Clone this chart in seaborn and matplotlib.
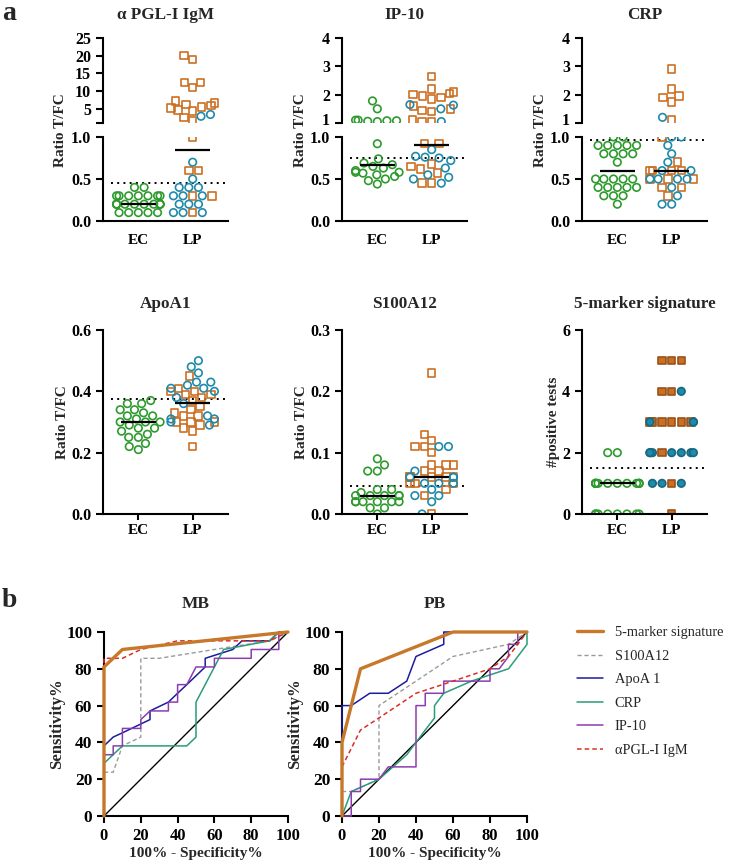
import warnings
import numpy as np
import pandas as pd
import matplotlib.pyplot as plt
import matplotlib.colors as mcolors
import matplotlib.transforms as mtransforms
from matplotlib.markers import MarkerStyle
import seaborn as sns

warnings.filterwarnings('ignore')

# ---- colours
GREEN = '#2E9A2E'
ORANGE = '#CC6F22'
TEAL = '#1F8AAA'

# ---- panel a data (ratio T/FC), EC = endemic controls, MB / PB = leprosy patients
pgl_ec = [0.4, 0.4, 0.3, 0.3, 0.3, 0.3, 0.3, 0.3, 0.3, 0.2, 0.2, 0.2, 0.2, 0.2, 0.2, 0.2, 0.2,
          0.2, 0.2, 0.1, 0.1, 0.1, 0.1, 0.1]
pgl_mb = [20, 19, 12.5, 12.4, 11, 7.2, 6.6, 6.2, 6.0, 5.5, 5.2, 4.7, 4.4, 2.6, 1.6,
          1.0, 0.6, 0.6, 0.3, 0.3, 0.1]
pgl_pb = [3.4, 2.9, 0.7, 0.5, 0.4, 0.4, 0.4, 0.3, 0.3, 0.3, 0.2, 0.2, 0.2, 0.1, 0.1, 0.1]
pgl_med = [0.2, 0.85]
pgl_cut = 0.45

ip10_ec = [1.78, 1.5, 1.1, 1.1, 1.08, 1.08, 1.06, 1.05, 0.92, 0.74, 0.69, 0.67, 0.65, 0.63,
           0.6, 0.58, 0.58, 0.57, 0.55, 0.53, 0.5, 0.48, 0.44]
ip10_mb = [2.65, 2.2, 2.1, 2.05, 2.0, 1.95, 1.9, 1.85, 1.6, 1.5, 1.45, 1.4, 1.1, 1.05, 1.05,
           0.92, 0.92, 0.68, 0.65, 0.62, 0.57, 0.45, 0.45]
ip10_pb = [1.65, 1.63, 1.5, 1.05, 0.85, 0.77, 0.76, 0.75, 0.72, 0.63, 0.55, 0.52, 0.5, 0.45]
ip10_med = [0.67, 0.91]
ip10_cut = 0.75

crp_ec = [1.0, 1.0, 0.9, 0.9, 0.9, 0.9, 0.9, 0.8, 0.8, 0.8, 0.8, 0.7, 0.5, 0.5, 0.5, 0.5, 0.5,
          0.4, 0.4, 0.4, 0.4, 0.4, 0.3, 0.3, 0.3, 0.2]
crp_mb = [2.9, 2.2, 1.95, 1.9, 1.75, 1.1, 1.0, 0.7, 0.6, 0.6, 0.6, 0.6, 0.5, 0.5, 0.5, 0.4,
          0.4, 0.3]
crp_pb = [1.2, 1.0, 1.0, 0.9, 0.8, 0.7, 0.6, 0.6, 0.5, 0.5, 0.5, 0.5, 0.4, 0.3, 0.2, 0.2]
crp_med = [0.6, 0.6]
crp_cut = 0.96

apo_ec = [0.37, 0.36, 0.36, 0.34, 0.34, 0.33, 0.32, 0.32, 0.31, 0.30, 0.30, 0.30, 0.29, 0.28,
          0.28, 0.27, 0.26, 0.25, 0.25, 0.23, 0.22, 0.21]
apo_mb = [0.45, 0.41, 0.40, 0.40, 0.39, 0.39, 0.38, 0.37, 0.35, 0.34, 0.33, 0.32, 0.32, 0.30,
          0.30, 0.30, 0.29, 0.28, 0.27, 0.22]
apo_pb = [0.50, 0.48, 0.46, 0.43, 0.43, 0.42, 0.41, 0.41, 0.40, 0.38, 0.36, 0.32, 0.31, 0.31,
          0.30, 0.29]
apo_med = [0.30, 0.363]
apo_cut = 0.375

s100_ec = [0.09, 0.08, 0.07, 0.07, 0.04, 0.04, 0.035, 0.03, 0.03, 0.03, 0.03, 0.03, 0.02, 0.02,
           0.02, 0.02, 0.02, 0.02, 0.01, 0.01, 0.0]
s100_mb = [0.23, 0.13, 0.12, 0.11, 0.11, 0.10, 0.08, 0.08, 0.08, 0.07, 0.07, 0.06, 0.06, 0.06,
           0.06, 0.06, 0.05, 0.05, 0.05, 0.04, 0.03, 0.0]
s100_pb = [0.11, 0.11, 0.07, 0.06, 0.06, 0.06, 0.05, 0.05, 0.05, 0.04, 0.03, 0.03, 0.02, 0.0]
s100_med = [0.03, 0.06]
s100_cut = 0.045

sig_ec = [2, 2, 1, 1, 1, 1, 1, 1, 1, 1, 1, 1, 1, 1, 0, 0, 0, 0, 0, 0, 0, 0]
sig_mb = [5, 5, 5, 4, 4, 3, 3, 3, 3, 3, 3, 2, 1, 0]
sig_pb = [4, 3, 3, 3, 2, 2, 2, 2, 2, 2, 2, 1, 1, 1]
sig_med = [1, None]
sig_cut = 1.5

# ---- panel b ROC curves (100% - specificity, sensitivity)
mb_sig_x = [0, 0, 10, 100]
mb_sig_y = [0, 81, 90.5, 100]
mb_s100_x = [0, 5, 10, 20, 20, 30, 60, 90, 100]
mb_s100_y = [23.8, 23.8, 38.1, 42.9, 85.7, 85.7, 90.5, 95.2, 100]
mb_apo_x = [0, 5, 10, 20, 25, 25, 35, 40, 45, 50, 55, 55, 70, 75, 90, 95, 100]
mb_apo_y = [38.1, 42.9, 45.2, 50, 52.4, 57.1, 61.9, 66.7, 71.4, 76.2, 81, 85.7, 90.5, 95.2,
            95.2, 100, 100]
mb_crp_x = [0, 10, 45, 50, 50, 65, 90, 95, 100]
mb_crp_y = [28.6, 38.1, 38.1, 42.9, 61.9, 90.5, 95.2, 100, 100]
mb_ip_x = [0, 5, 5, 10, 10, 20, 20, 25, 35, 35, 40, 40, 45, 50, 60, 60, 80, 80, 95, 95, 100]
mb_ip_y = [33.3, 33.3, 38.1, 38.1, 47.6, 47.6, 52.4, 57.1, 57.1, 61.9, 61.9, 71.4, 71.4, 81,
           81, 85.7, 85.7, 90.5, 90.5, 100, 100]
mb_pgl_x = [0, 0, 10, 20, 40, 90, 100]
mb_pgl_y = [0, 85.7, 85.7, 90.5, 95.2, 95.2, 100]

pb_sig_x = [0, 0, 10, 60, 100]
pb_sig_y = [0, 40, 80, 100, 100]
pb_s100_x = [0, 5, 20, 20, 40, 60, 90, 100]
pb_s100_y = [13.3, 13.3, 20, 60, 73.3, 86.7, 93.3, 100]
pb_apo_x = [0, 0, 5, 15, 25, 35, 40, 55, 55, 100]
pb_apo_y = [40, 60, 60, 66.7, 66.7, 73.3, 86.7, 93.3, 100, 100]
pb_crp_x = [0, 5, 20, 35, 45, 50, 50, 55, 70, 80, 90, 100, 100]
pb_crp_y = [0, 13.3, 20, 33.3, 46.7, 53.3, 60, 66.7, 73.3, 76.7, 80, 93.3, 100]
pb_ip_x = [0, 5, 5, 10, 10, 20, 25, 40, 40, 45, 45, 55, 55, 80, 80, 85, 90, 90, 95, 95, 100]
pb_ip_y = [0, 0, 13.3, 13.3, 20, 20, 26.7, 26.7, 60, 60, 66.7, 66.7, 73.3, 73.3, 80, 80,
           86.7, 93.3, 93.3, 100, 100]
pb_pgl_x = [0, 10, 20, 40, 60, 80, 90, 100]
pb_pgl_y = [26.7, 46.7, 53.3, 66.7, 73.3, 80, 86.7, 100]

roc_names = ['5-marker signature', 'S100A12', 'ApoA 1', 'CRP', 'IP-10', 'αPGL-I IgM']
roc_colors = ['#C8782A', '#9A9A9A', '#1C1C9C', '#2A9D78', '#8B3DAF', '#D93025']

sns.set_style('ticks')
plt.rcParams['font.family'] = ['Liberation Serif', 'DejaVu Serif']
plt.rcParams['font.weight'] = 'bold'
plt.rcParams['axes.labelweight'] = 'bold'
plt.rcParams['axes.titleweight'] = 'bold'
plt.rcParams['axes.linewidth'] = 1.5
plt.rcParams['xtick.major.width'] = 1.5
plt.rcParams['ytick.major.width'] = 1.5
plt.rcParams['xtick.major.size'] = 5
plt.rcParams['ytick.major.size'] = 5
plt.rcParams['xtick.labelsize'] = 11
plt.rcParams['ytick.labelsize'] = 11.5
plt.rcParams['xtick.color'] = 'black'
plt.rcParams['ytick.color'] = 'black'
plt.rcParams['axes.edgecolor'] = 'black'

fig = plt.figure(figsize=(7.3, 8.64), dpi=100)


def add_ax(left, top, right, bottom):
    return fig.add_axes([left / 730, 1 - bottom / 864, (right - left) / 730, (bottom - top) / 864])


def marker_path(m):
    ms = MarkerStyle(m)
    return ms.get_path().transformed(ms.get_transform())


SQUARE = marker_path('s')
CIRCLE = marker_path('o')
PAL = {'EC': GREEN, 'MB': ORANGE, 'PB': TEAL}


def make_df(ec, mb, pb):
    return pd.DataFrame({
        'group': ['EC'] * len(ec) + ['LP'] * (len(mb) + len(pb)),
        'kind': ['EC'] * len(ec) + ['MB'] * len(mb) + ['PB'] * len(pb),
        'value': list(ec) + list(mb) + list(pb),
    })


def swarm(ax, df, filled=False):
    n0 = len(ax.collections)
    sns.swarmplot(data=df, x='group', y='value', hue='kind', palette=PAL,
                  order=['EC', 'LP'], hue_order=['EC', 'MB', 'PB'],
                  size=5.4, legend=False, ax=ax)
    orange = np.array(mcolors.to_rgb(ORANGE))
    green = np.array(mcolors.to_rgb(GREEN))
    for coll in ax.collections[n0:]:
        fc = np.array(coll.get_facecolors())
        if len(fc) == 0:
            continue
        is_sq = np.all(np.isclose(fc[:, :3], orange, atol=0.02), axis=1)
        is_ec = np.all(np.isclose(fc[:, :3], green, atol=0.02), axis=1)
        coll.set_paths([SQUARE if s else CIRCLE for s in is_sq])
        if filled and not is_ec.any():
            edges = fc.copy()
            edges[:, :3] = edges[:, :3] * 0.75
            coll.set_edgecolors(edges)
        else:
            coll.set_edgecolors(fc)
            coll.set_facecolors('none')
        coll.set_linewidths(1.2)
        coll.set_zorder(2)
    ax.set_xlabel('')
    ax.set_ylabel('')


def draw_medians(ax, med):
    for pos, m in enumerate(med):
        if m is not None:
            ax.hlines(m, pos - 0.32, pos + 0.32, color='black', lw=1.6, zorder=4)


def broken_panel(left, title, ec, mb, pb, top_lim, top_ticks, top_labels, cut, med):
    right = left + 125
    ax_top = add_ax(left, 38, right, 123)
    ax_bot = add_ax(left, 137, right, 221)
    df = make_df(ec, mb, pb)
    for ax in (ax_top, ax_bot):
        ax.set_xlim(-0.65, 1.65)
    ax_top.set_ylim(*top_lim)
    ax_bot.set_ylim(0, 1)
    swarm(ax_top, df[df.value > 1])
    swarm(ax_bot, df[df.value <= 1])
    hi = [m if (m is not None and m > 1) else None for m in med]
    lo = [m if (m is not None and m <= 1) else None for m in med]
    draw_medians(ax_top, hi)
    draw_medians(ax_bot, lo)
    ax_bot.axhline(cut, xmin=0.06, xmax=1, color='black', ls=(0, (1, 2.2)), lw=1.4, zorder=1)
    for ax in (ax_top, ax_bot):
        ax.set_xlim(-0.65, 1.65)
    ax_top.set_ylim(*top_lim)
    ax_bot.set_ylim(0, 1)
    sns.despine(ax=ax_top, bottom=True)
    sns.despine(ax=ax_bot)
    ax_top.tick_params(axis='x', bottom=False, labelbottom=False)
    ax_top.set_yticks(top_ticks)
    ax_top.set_yticklabels(top_labels)
    # nudge the lowest label of the upper segment a little up, away from "1.0"
    low_lab = ax_top.get_yticklabels()[0]
    low_lab.set_transform(low_lab.get_transform() +
                          mtransforms.ScaledTranslation(0, 3 / 72, fig.dpi_scale_trans))
    ax_bot.set_yticks([0, 0.5, 1.0])
    ax_bot.set_yticklabels(['0.0', '0.5', '1.0'])
    ax_bot.tick_params(axis='x', length=0, pad=9)
    ax_top.set_title(title, fontsize=12.3, pad=14)
    fig.text((left - 42) / 730, 1 - 130 / 864, 'Ratio T/FC', rotation=90,
             ha='center', va='center', fontsize=11)


broken_panel(103, 'α PGL-I IgM', pgl_ec, pgl_mb, pgl_pb, (1, 25),
             [1, 5, 10, 15, 20, 25], ['', '5', '10', '15', '20', '25'], pgl_cut, pgl_med)
broken_panel(342, 'IP-10', ip10_ec, ip10_mb, ip10_pb, (1, 4),
             [1, 2, 3, 4], ['1', '2', '3', '4'], ip10_cut, ip10_med)
broken_panel(582, 'CRP', crp_ec, crp_mb, crp_pb, (1, 4),
             [1, 2, 3, 4], ['1', '2', '3', '4'], crp_cut, crp_med)


def simple_panel(left, title, ec, mb, pb, ymax, ticks, labels, cut, med, ylab, lab_x,
                 filled=False):
    ax = add_ax(left, 330, left + 125, 514)
    ax.set_xlim(-0.65, 1.65)
    ax.set_ylim(0, ymax)
    swarm(ax, make_df(ec, mb, pb), filled=filled)
    draw_medians(ax, med)
    ax.axhline(cut, xmin=0.06, xmax=1, color='black', ls=(0, (1, 2.2)), lw=1.4, zorder=1)
    ax.set_xlim(-0.65, 1.65)
    ax.set_ylim(0, ymax)
    sns.despine(ax=ax)
    ax.set_yticks(ticks)
    ax.set_yticklabels(labels)
    ax.tick_params(axis='x', length=4, pad=3)
    ax.set_title(title, fontsize=12.3, pad=16)
    ax.set_ylabel(ylab, fontsize=11)
    ax.yaxis.set_label_coords(lab_x, 0.5)
    return ax


simple_panel(103, 'ApoA1', apo_ec, apo_mb, apo_pb, 0.6, [0, 0.2, 0.4, 0.6],
             ['0.0', '0.2', '0.4', '0.6'], apo_cut, apo_med, 'Ratio T/FC', -0.27)
simple_panel(342, 'S100A12', s100_ec, s100_mb, s100_pb, 0.3, [0, 0.1, 0.2, 0.3],
             ['0.0', '0.1', '0.2', '0.3'], s100_cut, s100_med, 'Ratio T/FC', -0.27)
simple_panel(582, '5-marker signature', sig_ec, sig_mb, sig_pb, 6, [0, 2, 4, 6],
             ['0', '2', '4', '6'], sig_cut, sig_med, '#positive tests', -0.18, filled=True)

# ---- panel b
ax_mb = add_ax(104, 632, 288, 816)
ax_pb = add_ax(342, 632, 527, 816)
mb_curves = [(mb_sig_x, mb_sig_y), (mb_s100_x, mb_s100_y), (mb_apo_x, mb_apo_y),
             (mb_crp_x, mb_crp_y), (mb_ip_x, mb_ip_y), (mb_pgl_x, mb_pgl_y)]
pb_curves = [(pb_sig_x, pb_sig_y), (pb_s100_x, pb_s100_y), (pb_apo_x, pb_apo_y),
             (pb_crp_x, pb_crp_y), (pb_ip_x, pb_ip_y), (pb_pgl_x, pb_pgl_y)]
styles = [dict(lw=2.4, zorder=6), dict(lw=1.0, dashes=(3, 2), zorder=4),
          dict(lw=1.1, zorder=4), dict(lw=1.1, zorder=4), dict(lw=1.1, zorder=4),
          dict(lw=1.1, dashes=(3, 2), zorder=5)]

for ax, curves, title in [(ax_mb, mb_curves, 'MB'), (ax_pb, pb_curves, 'PB')]:
    ax.axline((0, 0), (1, 1), color='black', lw=1.0, zorder=3)
    for (x, y), name, col, st in zip(curves, roc_names, roc_colors, styles):
        sns.lineplot(x=x, y=y, estimator=None, sort=False, color=col, label=name,
                     ax=ax, clip_on=False, **st)
    ax.set_xlim(0, 100)
    ax.set_ylim(0, 100)
    ax.set_xticks([0, 20, 40, 60, 80, 100])
    ax.set_yticks([0, 20, 40, 60, 80, 100])
    ax.tick_params(axis='x', labelsize=12)
    ax.tick_params(axis='y', labelsize=12.5)
    sns.despine(ax=ax)
    ax.set_title(title, fontsize=12.5, pad=17)
    ax.set_xlabel('100% - Specificity%', fontsize=11)
    ax.set_ylabel('Sensitivity%', fontsize=12)
    ax.xaxis.set_label_coords(0.5, -0.17)
    ax.yaxis.set_label_coords(-0.21, 0.5)
    if ax.get_legend() is not None:
        ax.get_legend().remove()

handles, labels = ax_pb.get_legend_handles_labels()
fig.legend(handles, labels, loc='upper left', bbox_to_anchor=(577 / 730, 1 - 626 / 864),
           frameon=False, borderpad=0, borderaxespad=0, handlelength=1.8,
           handletextpad=0.8, labelspacing=0.72, prop={'weight': 'normal', 'size': 10.4})

fig.text(2 / 730, 1 - 1 / 864, 'a', fontsize=20, va='top', ha='left')
fig.text(2 / 730, 1 - 588 / 864, 'b', fontsize=20, va='top', ha='left')

fig.savefig('out.png', dpi=100)
